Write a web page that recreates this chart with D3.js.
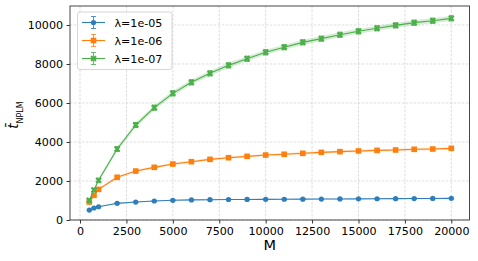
<!DOCTYPE html>
<html><head><meta charset="utf-8">
<script src="https://cdn.jsdelivr.net/npm/d3@7"></script>
<style>
body{margin:0;background:#fff;}
text{font-family:"DejaVu Sans",sans-serif;}
</style></head>
<body><svg id="c" width="478" height="261"></svg>
<script>
const M = [500,750,1000,2000,3000,4000,5000,6000,7000,8000,9000,10000,11000,12000,13000,14000,15000,16000,17000,18000,19000,20000];
const blue = [510,615,680,855,920,975,1010,1030,1040,1050,1055,1060,1065,1070,1075,1080,1085,1090,1095,1100,1105,1110];
const orange = [920,1265,1570,2190,2510,2700,2870,2990,3110,3195,3265,3330,3370,3420,3470,3505,3540,3570,3590,3625,3640,3675];
const green = [1010,1540,2035,3640,4870,5760,6495,7060,7520,7930,8270,8600,8860,9110,9300,9500,9675,9830,9980,10120,10220,10340];
const blueErr = [20,22,22,25,25,25,25,25,25,25,25,25,25,25,25,25,25,25,25,25,25,25];
const orangeErr = [45,50,55,60,60,60,60,60,60,60,60,60,60,60,60,60,60,60,60,60,60,60];
const greenErr = [80,90,100,120,130,130,130,130,130,130,130,130,130,130,130,130,130,130,130,130,130,130];
const seriesNames = ["λ=1e-05","λ=1e-06","λ=1e-07"];
const xTicks = [0,2500,5000,7500,10000,12500,15000,17500,20000];
const yTicks = [0,2000,4000,6000,8000,10000];

const svg = d3.select("#c");
const L=70,R=469.5,T=6,B=220;
const x = d3.scaleLinear().domain([-540,20980]).range([L,R]);
const y = d3.scaleLinear().domain([0,10974]).range([B,T]);

// grid
const g = svg.append("g");
g.selectAll(".gx").data(xTicks).join("line")
 .attr("x1",d=>x(d)).attr("x2",d=>x(d)).attr("y1",T).attr("y2",B)
 .attr("stroke","#b0b0b0").attr("stroke-width",0.7).attr("stroke-dasharray","2.5,1.5").attr("opacity",0.6);
g.selectAll(".gy").data(yTicks).join("line")
 .attr("y1",d=>y(d)).attr("y2",d=>y(d)).attr("x1",L).attr("x2",R)
 .attr("stroke","#b0b0b0").attr("stroke-width",0.7).attr("stroke-dasharray","2.5,1.5").attr("opacity",0.6);

// axes
const xa = svg.append("g").attr("transform",`translate(0,${B})`)
 .call(d3.axisBottom(x).tickValues(xTicks).tickSize(3.5).tickPadding(3.5).tickFormat(d3.format("d")));
const ya = svg.append("g").attr("transform",`translate(${L},0)`)
 .call(d3.axisLeft(y).tickValues(yTicks).tickSize(3.5).tickPadding(3.5).tickFormat(d3.format("d")));
[xa,ya].forEach(a=>{a.select(".domain").remove();a.selectAll("text").attr("font-size",11.1).attr("fill","#000").attr("font-family","DejaVu Sans");a.selectAll("line").attr("stroke","#333");});
svg.append("rect").attr("x",L).attr("y",T).attr("width",R-L).attr("height",B-T)
 .attr("fill","none").attr("stroke","#333").attr("stroke-width",0.9);

// labels
svg.append("text").attr("x",(L+R)/2).attr("y",250).attr("text-anchor","middle").attr("font-size",14.5).text("M");
const yl = svg.append("text").attr("transform","translate(18,115) rotate(-90)").attr("text-anchor","middle");
yl.append("tspan").attr("font-size",13.5).attr("font-style","italic").text("t\u0304");
yl.append("tspan").attr("font-size",8).attr("dy",4.5).text("NPLM");

const series = [
 {name:seriesNames[0],v:blue,e:blueErr,c:"#2f7ebc",sym:"circle"},
 {name:seriesNames[1],v:orange,e:orangeErr,c:"#ff7f0e",sym:"square"},
 {name:seriesNames[2],v:green,e:greenErr,c:"#4caf4a",sym:"x"}
];
function marker(sel,s,cx,cy){
  if(s.sym==="circle") sel.append("circle").attr("cx",cx).attr("cy",cy).attr("r",2.6).attr("fill",s.c);
  else if(s.sym==="square") sel.append("rect").attr("x",cx-2.8).attr("y",cy-2.8).attr("width",5.6).attr("height",5.6).attr("fill",s.c);
  else sel.append("path").attr("d",d3.symbol(d3.symbolCross,26)()).attr("transform",`translate(${cx},${cy}) rotate(45)`).attr("fill",s.c);
}
const line = d3.line().x(d=>x(d[0])).y(d=>y(d[1]));
const area = d3.area().x(d=>x(d[0])).y0(d=>y(d[1]-d[2])).y1(d=>y(d[1]+d[2]));
series.forEach(s=>{
  const pts = M.map((m,i)=>[m,s.v[i],s.e[i]]);
  const gs = svg.append("g");
  gs.append("path").datum(pts).attr("d",area).attr("fill",s.c).attr("opacity",0.22);
  gs.append("path").datum(pts).attr("d",line).attr("fill","none").attr("stroke",s.c).attr("stroke-width",1.1);
  pts.forEach(p=>{
    const cx=x(p[0]), y1=y(p[1]-p[2]), y2=y(p[1]+p[2]);
    gs.append("line").attr("x1",cx).attr("x2",cx).attr("y1",y1).attr("y2",y2).attr("stroke",s.c).attr("stroke-width",1);
    [y1,y2].forEach(yy=>gs.append("line").attr("x1",cx-2.5).attr("x2",cx+2.5).attr("y1",yy).attr("y2",yy).attr("stroke",s.c).attr("stroke-width",1));
    marker(gs,s,cx,y(p[1]));
  });
});

// legend
const lg = svg.append("g");
lg.append("rect").attr("x",77.5).attr("y",12).attr("width",94.5).attr("height",57.5).attr("rx",2.5)
 .attr("fill","#fff").attr("fill-opacity",0.8).attr("stroke","#ccc").attr("stroke-width",0.8);
series.forEach((s,i)=>{
  const yy = 22.5+i*18;
  lg.append("line").attr("x1",82).attr("x2",105).attr("y1",yy).attr("y2",yy).attr("stroke",s.c).attr("stroke-width",1.1);
  lg.append("line").attr("x1",93.5).attr("x2",93.5).attr("y1",yy-6).attr("y2",yy+6).attr("stroke",s.c).attr("stroke-width",1).attr("opacity",0.8);
  [yy-6,yy+6].forEach(v=>lg.append("line").attr("x1",91).attr("x2",96).attr("y1",v).attr("y2",v).attr("stroke",s.c).attr("stroke-width",1).attr("opacity",0.8));
  marker(lg,s,93.5,yy);
  lg.append("text").attr("x",114.5).attr("y",yy+4).attr("font-size",11.1).text(s.name);
});
</script></body></html>
